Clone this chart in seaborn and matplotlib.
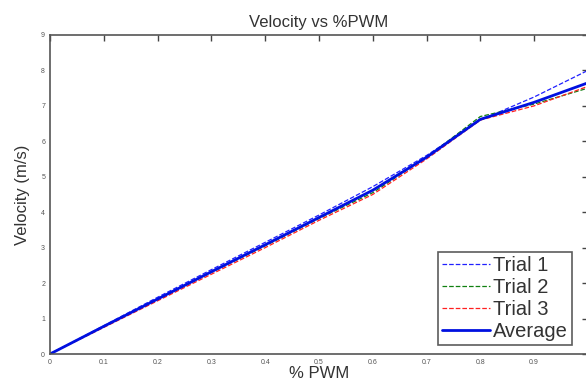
import numpy as np
import pandas as pd
import seaborn as sns
import matplotlib
matplotlib.use("Agg")
import matplotlib.pyplot as plt

# Values
pwm = [0.0, 0.1, 0.2, 0.3, 0.4, 0.5, 0.6, 0.7, 0.8, 0.9, 1.0]
trial1 = [0.0, 0.80, 1.60, 2.38, 3.15, 3.92, 4.72, 5.60, 6.60, 7.25, 8.00]
trial2 = [0.0, 0.77, 1.53, 2.30, 3.05, 3.82, 4.55, 5.55, 6.70, 7.05, 7.50]
trial3 = [0.0, 0.75, 1.50, 2.25, 3.00, 3.77, 4.50, 5.50, 6.60, 7.00, 7.55]
average = [0.0, 0.78, 1.55, 2.32, 3.08, 3.85, 4.62, 5.55, 6.62, 7.10, 7.65]

x_ticks = [0, 0.1, 0.2, 0.3, 0.4, 0.5, 0.6, 0.7, 0.8, 0.9, 1]
x_labels = ["0", "0.1", "0.2", "0.3", "0.4", "0.5", "0.6", "0.7", "0.8", "0.9", ""]
y_ticks = [0, 1, 2, 3, 4, 5, 6, 7, 8, 9]

sns.set_style("white")
plt.rcParams['font.family'] = ['Liberation Sans', 'DejaVu Sans']

fig = plt.figure(figsize=(5.86, 3.91), dpi=100)
ax = fig.add_axes([0.0853, 0.0946, 0.918, 0.816])

df = pd.DataFrame({"pwm": pwm, "Trial 1": trial1, "Trial 2": trial2,
                   "Trial 3": trial3, "Average": average})

sns.lineplot(data=df, x="pwm", y="Trial 1", ax=ax, color="#2020ff", lw=0.9,
             linestyle="--", label="Trial 1")
sns.lineplot(data=df, x="pwm", y="Trial 2", ax=ax, color="#108010", lw=0.9,
             linestyle="--", label="Trial 2")
sns.lineplot(data=df, x="pwm", y="Trial 3", ax=ax, color="#ff2020", lw=0.9,
             linestyle="--", label="Trial 3")
sns.lineplot(data=df, x="pwm", y="Average", ax=ax, color="#0010e0", lw=2.0,
             label="Average")

ax.set_xlim(0, 1)
ax.set_ylim(0, 9)
ax.set_xticks(x_ticks)
ax.set_yticks(y_ticks)
ax.set_xticklabels(x_labels)
ax.tick_params(direction="in", length=4, width=1, labelsize=5,
               top=True, right=True, colors="#444444", labelcolor="#555555")

for s in ax.spines.values():
    s.set_color("#555555")
    s.set_linewidth(1.2)

ax.set_title("Velocity vs %PWM", fontsize=12, color="#333333", pad=6)
ax.set_xlabel("% PWM", fontsize=12, color="#333333", labelpad=0)
ax.set_ylabel("Velocity (m/s)", fontsize=12, color="#333333", labelpad=8)

leg = ax.legend(loc="lower right", bbox_to_anchor=(0.97, 0.028), fontsize=14.5,
                frameon=True, fancybox=False, handlelength=2.4,
                handletextpad=0.15, borderpad=0.2, labelspacing=0.15,
                borderaxespad=0)
leg.get_frame().set_edgecolor("#333333")
leg.get_frame().set_linewidth(1.2)
for t in leg.get_texts():
    t.set_color("#333333")

fig.savefig("out.png", dpi=100)
